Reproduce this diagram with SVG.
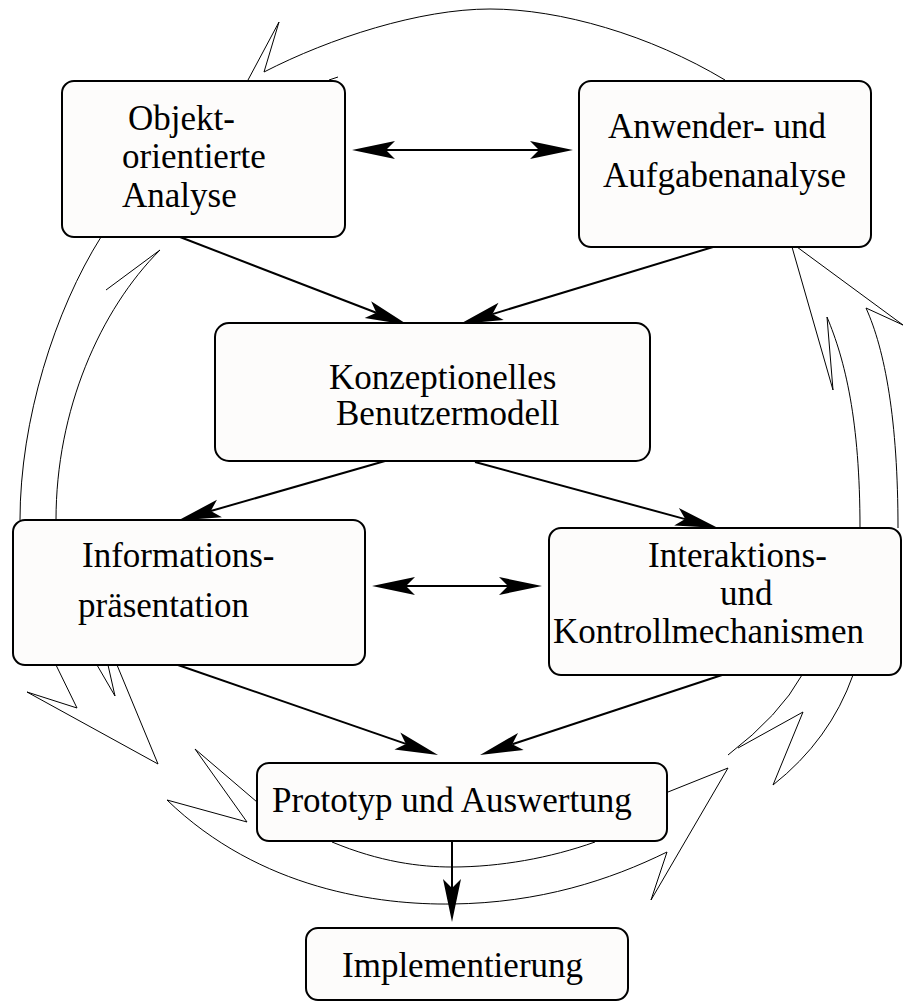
<svg xmlns="http://www.w3.org/2000/svg" width="903" height="1004" viewBox="0 0 903 1004">
  <style>
    .cyc { fill: none; stroke: #000; stroke-width: 1; stroke-linejoin: miter; }
    .box { fill: #fdfcfb; stroke: #000; stroke-width: 2; }
    .con { fill: none; stroke: #000; stroke-width: 2; }
    .lbl { font-family: "Liberation Serif", "Times New Roman", serif; font-size: 35px; fill: #000; }
  </style>
  <defs>
    <marker id="head" markerUnits="userSpaceOnUse" orient="auto-start-reverse" refX="0" refY="0" markerWidth="60" markerHeight="30" overflow="visible">
      <path d="M34,0 L-9,-9 L0,0 L-9,9 Z" fill="#000"/>
    </marker>
  </defs>
  <rect width="903" height="1004" fill="#fff"/>

  <!-- cycle arrows around the process -->
  <g id="cycle">
    <!-- top: Anwender -> Objekt -->
    <path class="cyc" d="M725,80 C650,35 560,9 490,9 C420,9 330,38 264,72 L279,22 L248,80"/>
    <path class="cyc" d="M329,80 L338,77"/>
    <!-- left: Objekt -> Informationen -->
    <path class="cyc" d="M101,237 C55,310 20,420 20,520"/>
    <path class="cyc" d="M106,290 L160,250 C100,310 56,410 56,520"/>
    <path class="cyc" d="M56,665 L77,708 L27,692 L158,764 L117,665"/>
    <path class="cyc" d="M97,665 L115,696 L108,665"/>
    <!-- bottom: Prototyp -> Interaktion -->
    <path class="cyc" d="M257,802 L195,749 L247,822 L167,800 C260,890 380,905 452,904 C540,903 610,880 667,852 L651,900 L728,768 L668,792"/>
    <path class="cyc" d="M332,842 C380,862 420,867 452,867 C500,867 550,858 595,842"/>
    <!-- right: Interaktion -> Anwender -->
    <path class="cyc" d="M802,675 Q780,715 728,755"/>
    <path class="cyc" d="M738,748 L803,712 L773,785 Q830,740 853,675"/>
    <path class="cyc" d="M860,528 C860,420 845,360 827,317 L833,390 L792,247"/>
    <path class="cyc" d="M898,528 C898,420 885,350 866,308 L903,325 L797,247"/>
  </g>

  <!-- connectors between the activities -->
  <g id="connectors">
    <path class="con" d="M386,150 L539,150" marker-start="url(#head)" marker-end="url(#head)"/>
    <path class="con" d="M180,237 L376.3,312.8" marker-end="url(#head)"/>
    <path class="con" d="M713,247 L492.5,314.1" marker-end="url(#head)"/>
    <path class="con" d="M385,461 L210.8,511" marker-end="url(#head)"/>
    <path class="con" d="M475,462 L685.2,519.1" marker-end="url(#head)"/>
    <path class="con" d="M406,586 L508,586" marker-start="url(#head)" marker-end="url(#head)"/>
    <path class="con" d="M178,665 L405.9,743.9" marker-end="url(#head)"/>
    <path class="con" d="M722,675 L512.3,744.3" marker-end="url(#head)"/>
    <path class="con" d="M452,841 L452,888" marker-end="url(#head)"/>
  </g>

  <g id="objektorientierte-analyse">
    <rect class="box" x="62" y="81" width="283" height="156" rx="12"/>
    <text class="lbl" x="128" y="130">Objekt-</text>
    <text class="lbl" x="122" y="168">orientierte</text>
    <text class="lbl" x="122" y="207">Analyse</text>
  </g>

  <g id="anwender-aufgabenanalyse">
    <rect class="box" x="579" y="81" width="292" height="166" rx="12"/>
    <text class="lbl" x="608" y="138">Anwender- und</text>
    <text class="lbl" x="603" y="187">Aufgabenanalyse</text>
  </g>

  <g id="benutzermodell">
    <rect class="box" x="215" y="323" width="435" height="138" rx="14"/>
    <text class="lbl" x="329" y="389">Konzeptionelles</text>
    <text class="lbl" x="336" y="425">Benutzermodell</text>
  </g>

  <g id="informationspraesentation">
    <rect class="box" x="13" y="520" width="352" height="145" rx="12"/>
    <text class="lbl" x="82" y="567">Informations-</text>
    <text class="lbl" x="78" y="617">präsentation</text>
  </g>

  <g id="interaktionsmechanismen">
    <rect class="box" x="549" y="528" width="352" height="147" rx="12"/>
    <text class="lbl" x="648" y="567">Interaktions-</text>
    <text class="lbl" x="720" y="605">und</text>
    <text class="lbl" x="553" y="643">Kontrollmechanismen</text>
  </g>

  <g id="prototyp">
    <rect class="box" x="257" y="763" width="410" height="78" rx="12"/>
    <text class="lbl" x="272" y="812">Prototyp und Auswertung</text>
  </g>

  <g id="implementierung">
    <rect class="box" x="306" y="928" width="322" height="72" rx="12"/>
    <text class="lbl" x="342" y="977">Implementierung</text>
  </g>
</svg>
